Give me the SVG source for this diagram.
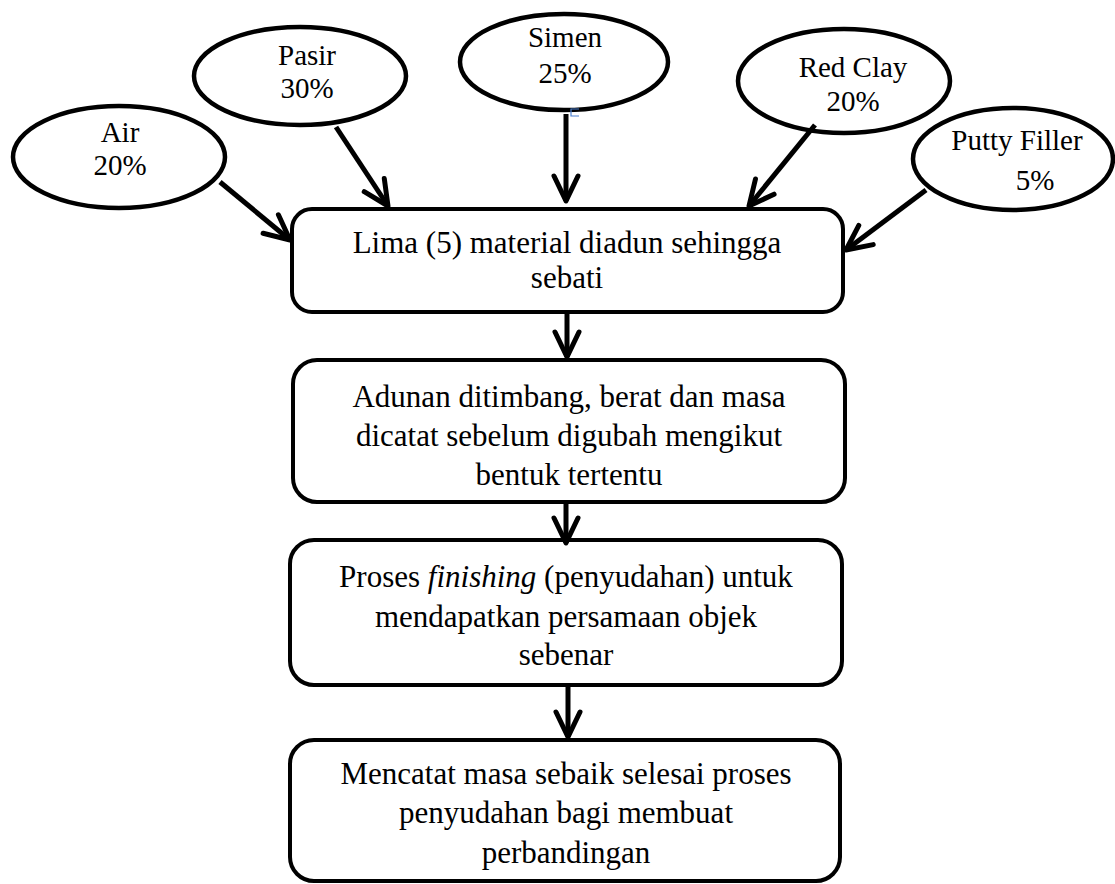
<svg xmlns="http://www.w3.org/2000/svg" width="1115" height="884" viewBox="0 0 1115 884">
<style>
.ell{fill:#fff;stroke:#000;stroke-width:4.5}
.box{fill:#fff;stroke:#000;stroke-width:4}
.et{font-family:"Liberation Serif",serif;font-size:29px;fill:#000;text-anchor:middle}
.bt{font-family:"Liberation Serif",serif;font-size:31px;fill:#000;text-anchor:middle}
.con{fill:none;stroke:#000;stroke-width:5}
</style>
<defs>
<marker id="arr" markerUnits="userSpaceOnUse" markerWidth="60" markerHeight="60" viewBox="-30 -30 60 60" refX="0" refY="0" orient="auto" overflow="visible">
<path d="M-25,-12 L0,0 L-25,12" fill="none" stroke="#000" stroke-width="5" stroke-linejoin="round" stroke-linecap="round"/>
</marker>
</defs>
<rect width="1115" height="884" fill="#fff"/>
<g id="air"><ellipse class="ell" cx="119" cy="157" rx="106" ry="51"/><text class="et" x="120" y="142">Air</text><text class="et" x="120" y="175">20%</text></g>
<g id="pasir"><ellipse class="ell" cx="300" cy="76" rx="106" ry="49"/><text class="et" x="307" y="65">Pasir</text><text class="et" x="307" y="98">30%</text></g>
<g id="simen"><ellipse class="ell" cx="564" cy="62" rx="104" ry="48"/><text class="et" x="565" y="47">Simen</text><text class="et" x="565" y="83">25%</text></g>
<g id="redclay"><ellipse class="ell" cx="844" cy="81" rx="106" ry="52"/><text class="et" x="853" y="77">Red Clay</text><text class="et" x="853" y="111">20%</text></g>
<g id="putty"><ellipse class="ell" cx="1013" cy="159" rx="100" ry="51"/><text class="et" x="1017" y="150">Putty Filler</text><text class="et" x="1035" y="190">5%</text></g>
<g id="box1"><rect class="box" x="292" y="209" width="551" height="103" rx="20"/><text class="bt" x="567" y="253">Lima (5) material diadun sehingga</text><text class="bt" x="567" y="288">sebati</text></g>
<g id="box2"><rect class="box" x="293" y="360" width="552" height="142" rx="24"/><text class="bt" x="569" y="407">Adunan ditimbang, berat dan masa</text><text class="bt" x="569" y="446">dicatat sebelum digubah mengikut</text><text class="bt" x="569" y="485">bentuk tertentu</text></g>
<g id="box3"><rect class="box" x="290" y="540" width="552" height="145" rx="24"/><text class="bt" x="566" y="587">Proses <tspan font-style="italic">finishing</tspan> (penyudahan) untuk</text><text class="bt" x="566" y="627">mendapatkan persamaan objek</text><text class="bt" x="566" y="665">sebenar</text></g>
<g id="box4"><rect class="box" x="290" y="740" width="550" height="141" rx="24"/><text class="bt" x="566" y="784">Mencatat masa sebaik selesai proses</text><text class="bt" x="566" y="823">penyudahan bagi membuat</text><text class="bt" x="566" y="863">perbandingan</text></g>
<g id="connectors">
<line class="con" x1="220" y1="182" x2="290" y2="240" marker-end="url(#arr)"/>
<line class="con" x1="336" y1="127" x2="388" y2="206" marker-end="url(#arr)"/>
<line class="con" x1="566" y1="114" x2="566" y2="201" marker-end="url(#arr)"/>
<line class="con" x1="815" y1="125" x2="749" y2="206" marker-end="url(#arr)"/>
<line class="con" x1="926" y1="190" x2="846" y2="250" marker-end="url(#arr)"/>
<line class="con" x1="567" y1="310" x2="567" y2="357" marker-end="url(#arr)"/>
<line class="con" x1="566" y1="500" x2="566" y2="543" marker-end="url(#arr)"/>
<line class="con" x1="568" y1="683" x2="568" y2="737" marker-end="url(#arr)"/>
</g>
<path d="M579,109 L571,109 L571,116 L579,116" fill="none" stroke="#4a7fd0" stroke-width="1.2"/>
</svg>
